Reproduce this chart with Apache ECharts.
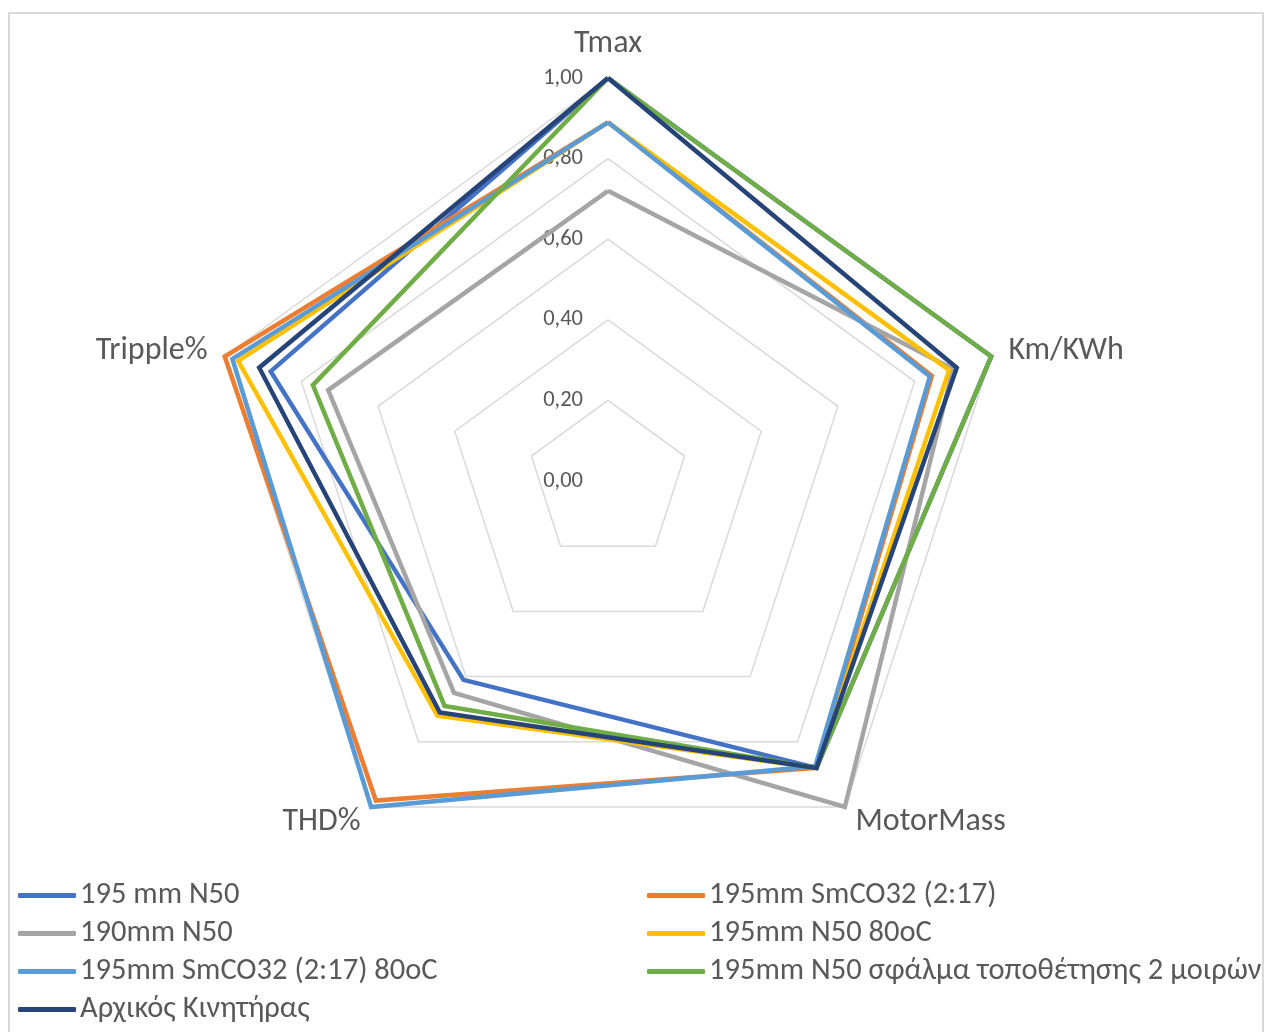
<!DOCTYPE html>
<html>
<head>
<meta charset="utf-8">
<script src="https://cdn.jsdelivr.net/npm/echarts@6/dist/echarts.min.js"></script>
<style>
  html, body { margin: 0; padding: 0; background: #fff; }
  #chart { position: absolute; left: 0; top: 0; width: 1264px; height: 1032px; }
  #frame { position: absolute; left: 8px; top: 12px; width: 1256px; height: 1040px;
           border: 2px solid #D9D9D9; box-sizing: border-box; pointer-events: none; }
</style>
</head>
<body>
<div id="chart"></div>
<div id="frame"></div>
<script>
// Indicators in ECharts drawing order (counter-clockwise from top)
const categories = ['Tmax', 'Tripple%', 'THD%', 'MotorMass', 'Km/KWh'];
const tickValues = [0, 0.2, 0.4, 0.6, 0.8, 1.0];

const seriesNames = [
  '195 mm N50',
  '195mm SmCO32 (2:17)',
  '190mm N50',
  '195mm N50 80oC',
  '195mm SmCO32 (2:17) 80oC',
  '195mm N50 σφάλμα τοποθέτησης 2 μοιρών',
  'Αρχικός Κινητήρας'
];
const colors = ['#4472C4', '#ED7D31', '#A5A5A5', '#FFC000', '#5B9BD5', '#70AD47', '#264478'];

// values: [Tmax, Tripple%, THD%, MotorMass, Km/KWh]
const v195N50      = [1.00, 0.88, 0.61, 0.88, 1.00];
const v195SmCo     = [0.89, 1.00, 0.98, 0.88, 0.845];
const v190N50      = [0.72, 0.73, 0.65, 1.00, 0.90];
const v195N50_80   = [0.89, 0.965, 0.72, 0.88, 0.89];
const v195SmCo_80  = [0.89, 0.98, 1.00, 0.875, 0.84];
const v195N50err   = [1.00, 0.77, 0.69, 0.88, 1.00];
const vOriginal    = [1.00, 0.91, 0.71, 0.88, 0.91];
const allValues = [v195N50, v195SmCo, v190N50, v195N50_80, v195SmCo_80, v195N50err, vOriginal];

const FONT = 'Carlito, Lato, "Open Sans", sans-serif';
const TXT = '#595959';

const indicator = categories.map((c, i) => {
  const ind = { name: c, min: tickValues[0], max: tickValues[tickValues.length - 1] };
  if (i === 0) {
    ind.axisLabel = {
      show: true,
      color: TXT,
      fontFamily: FONT,
      fontSize: 22.5,
      margin: 25,
      formatter: v => v.toFixed(2).replace('.', ',')
    };
  }
  return ind;
});

const legendCommon = {
  orient: 'vertical', top: 880, itemGap: 7, padding: 0,
  icon: 'roundRect', itemWidth: 58, itemHeight: 5,
  textStyle: { color: TXT, fontFamily: FONT, fontSize: 30.5, lineHeight: 30, padding: [0, 0, 0, -1] }
};

const chart = echarts.init(document.getElementById('chart'));
chart.setOption({
  animation: false,
  color: colors,
  radar: {
    center: [608, 481],
    radius: 403,
    startAngle: 90,
    shape: 'polygon',
    splitNumber: tickValues.length - 1,
    indicator: indicator,
    axisName: { color: TXT, fontFamily: FONT, fontSize: 32 },
    nameGap: 18,
    axisLine: { show: false },
    axisTick: { show: false },
    axisLabel: { show: false },
    splitLine: { lineStyle: { color: '#D9D9D9', width: 1.5 } },
    splitArea: { show: false }
  },
  legend: [
    Object.assign({}, legendCommon, {
      left: 18,
      data: [seriesNames[0], seriesNames[2], seriesNames[4], seriesNames[6]]
    }),
    Object.assign({}, legendCommon, {
      left: 647,
      data: [seriesNames[1], seriesNames[3], seriesNames[5]]
    })
  ],
  series: seriesNames.map((n, i) => ({
    type: 'radar',
    name: n,
    z: 2 + i,
    symbol: 'none',
    lineStyle: { width: 4.5, color: colors[i], join: 'miter' },
    itemStyle: { color: colors[i] },
    data: [{ name: n, value: allValues[i] }]
  }))
});
</script>
</body>
</html>
